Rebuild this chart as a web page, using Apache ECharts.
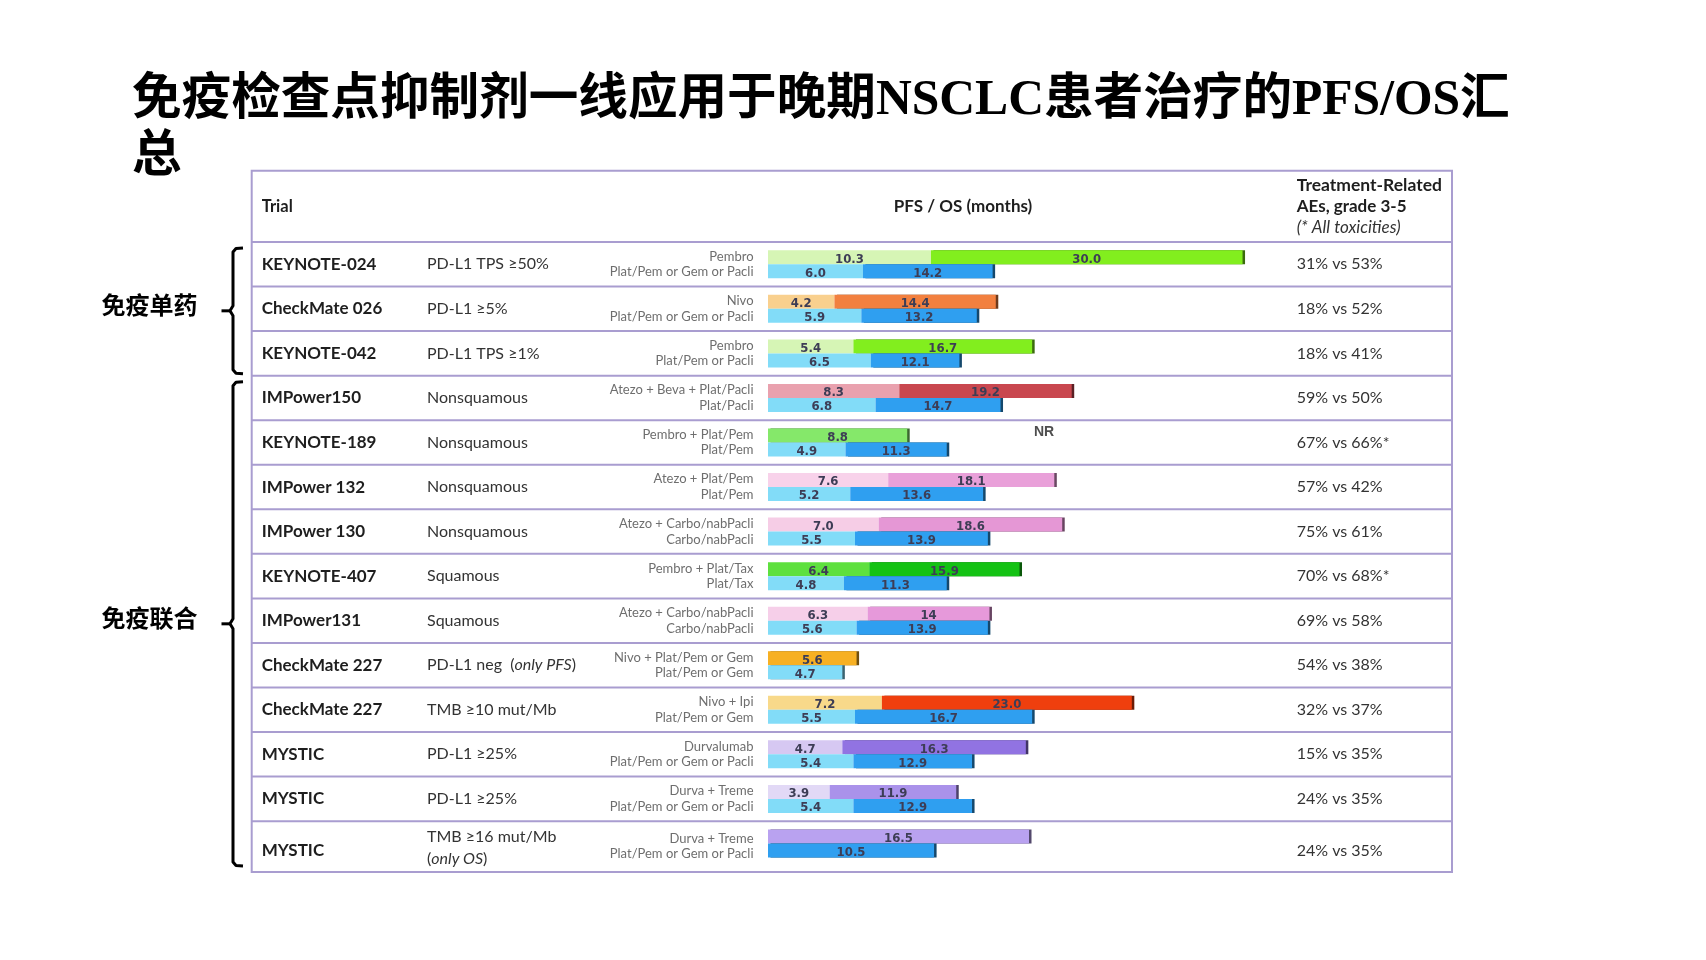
<!DOCTYPE html>
<html><head><meta charset="utf-8">
<script src="https://cdn.jsdelivr.net/npm/echarts@6/dist/echarts.min.js"></script>
<style>html,body{margin:0;padding:0;background:#fff}#c{width:1706px;height:960px}</style>
</head><body><div id="c"></div>
<script>
// ---------- data ----------
const trials = ['KEYNOTE-024','CheckMate 026','KEYNOTE-042','IMPower150','KEYNOTE-189','IMPower 132','IMPower 130','KEYNOTE-407','IMPower131','CheckMate 227','CheckMate 227','MYSTIC','MYSTIC','MYSTIC'];
const conditions = ['PD-L1 TPS ≥50%','PD-L1 ≥5%','PD-L1 TPS ≥1%','Nonsquamous','Nonsquamous','Nonsquamous','Nonsquamous','Squamous','Squamous','PD-L1 neg','TMB ≥10 mut/Mb','PD-L1 ≥25%','PD-L1 ≥25%','TMB ≥16 mut/Mb'];
const conditionNotes = [null,null,null,null,null,null,null,null,null,'only PFS',null,null,null,'only OS'];
const expArms = ['Pembro','Nivo','Pembro','Atezo + Beva + Plat/Pacli','Pembro + Plat/Pem','Atezo + Plat/Pem','Atezo + Carbo/nabPacli','Pembro + Plat/Tax','Atezo + Carbo/nabPacli','Nivo + Plat/Pem or Gem','Nivo + Ipi','Durvalumab','Durva + Treme','Durva + Treme'];
const ctlArms = ['Plat/Pem or Gem or Pacli','Plat/Pem or Gem or Pacli','Plat/Pem or Pacli','Plat/Pacli','Plat/Pem','Plat/Pem','Carbo/nabPacli','Plat/Tax','Carbo/nabPacli','Plat/Pem or Gem','Plat/Pem or Gem','Plat/Pem or Gem or Pacli','Plat/Pem or Gem or Pacli','Plat/Pem or Gem or Pacli'];
const expPFS = ['10.3','4.2','5.4','8.3','8.8','7.6','7.0','6.4','6.3','5.6','7.2','4.7','3.9',null];
const expOS  = ['30.0','14.4','16.7','19.2','NR','18.1','18.6','15.9','14',null,'23.0','16.3','11.9','16.5'];
const ctlPFS = ['6.0','5.9','6.5','6.8','4.9','5.2','5.5','4.8','5.6','4.7','5.5','5.4','5.4',null];
const ctlOS  = ['14.2','13.2','12.1','14.7','11.3','13.6','13.9','11.3','13.9',null,'16.7','12.9','12.9','10.5'];
const aes = ['31% vs 53%','18% vs 52%','18% vs 41%','59% vs 50%','67% vs 66%*','57% vs 42%','75% vs 61%','70% vs 68%*','69% vs 58%','54% vs 38%','32% vs 37%','15% vs 35%','24% vs 35%','24% vs 35%'];
const groups = [{name:'免疫单药', from:0, to:2},{name:'免疫联合', from:3, to:13}];
const nrNoteAt = 17.45; // months position of the "NR" note

// ---------- styles ----------
const expPfsColors = ['#d6f5b5','#f9d08e','#d6f5b5','#e9a1ae','#85e86a','#f8d2ea','#f6cde6','#5ee03e','#f6cfe9','#f7b023','#f8d98a','#d6c8f2','#e2d9f6',null];
const expOsColors  = ['#82ee1e','#f2803f','#82ee1e','#c9474f',null,'#e9a0d9','#e597d5','#14c214','#e699da',null,'#ef3f0e','#9173e2','#aa92ea','#b9a2f0'];
const ctlPfsColor = '#82dcf8', ctlOsColor = '#2f9ff0';
const lineColor = '#a99dd0';

const GL = 768, GT = 242, GW = 522, ROWH = 44.55, N = trials.length, GH = ROWH * N, XMAX = 33;
const TL = 251.7, TR = 1452, TTOP = 170.7, TBOT = 872;

function num(s){ return (s==null || s==='NR') ? null : parseFloat(s); }
function darken(hex, f){
  const v = parseInt(hex.slice(1),16);
  const r=(v>>16)&255,g=(v>>8)&255,b=v&255;
  return 'rgb('+Math.round(r*f)+','+Math.round(g*f)+','+Math.round(b*f)+')';
}
function cap(c){ return {shadowColor: darken(c,0.45), shadowOffsetX: 2.5, shadowOffsetY: 0, shadowBlur: 0}; }

const valFont = "'Liberation Sans Narrow','DejaVu Sans Condensed',sans-serif";
const baseLabel = {show:true, position:'inside', fontFamily: valFont, fontWeight:'bold', fontSize:13, color:'#3d3d55', offset:[0,2]};

function segSeries(name, stack, pfsArr, osArr, pfsColorOf, osColorOf){
  const pfs = {
    name: name+' PFS', type:'bar', stack, barWidth:14, barGap:'0%', xAxisIndex:0, yAxisIndex:0,
    data: pfsArr.map((p,i)=>{
      const v = num(p); if (v==null) return '-';
      const c = pfsColorOf(i);
      const st = {color:c};
      if (num(osArr[i])==null) Object.assign(st, cap(c));
      return {value:v, itemStyle:st};
    }),
    label: Object.assign({}, baseLabel, {formatter: p => pfsArr[p.dataIndex]}),
    animation:false
  };
  const os = {
    name: name+' OS', type:'bar', stack, barWidth:14, barGap:'0%', xAxisIndex:0, yAxisIndex:0,
    data: osArr.map((o,i)=>{
      const v = num(o); if (v==null) return '-';
      const c = osColorOf(i);
      return {value: v - (num(pfsArr[i])||0), itemStyle: Object.assign({color:c}, cap(c))};
    }),
    label: Object.assign({}, baseLabel, {formatter: p => osArr[p.dataIndex]}),
    animation:false
  };
  return [pfs, os];
}

const series = [].concat(
  segSeries('exp','exp',expPFS,expOS,i=>expPfsColors[i],i=>expOsColors[i]),
  segSeries('ctl','ctl',ctlPFS,ctlOS,()=>ctlPfsColor,()=>ctlOsColor),
  [{
    type:'scatter', xAxisIndex:0, yAxisIndex:0, symbolSize:0, animation:false,
    data: expOS.map((o,i)=> o==='NR' ? [nrNoteAt, i] : null).filter(d=>d),
    label:{show:true, position:'inside', formatter:'NR', fontFamily:"'Liberation Sans',Arial,sans-serif", fontWeight:'bold', fontSize:14, color:'#222', offset:[0,-10]}
  }]
);

const g = () => ({left:GL, top:GT, width:GW, height:GH});
const grids = [g(),g(),g(),g()];
const xAxes = grids.map((_,i)=>({type:'value', gridIndex:i, min:0, max:XMAX, show:false}));
const cat = (i)=>({type:'category', gridIndex:i, data:trials, inverse:true,
  axisLine:{show:false}, axisTick:{show:false}, splitLine:{show:false}});
const LAST = N-1;
const shiftPad = [14,0,0,0];

const armRich = {
  a:{fontFamily:'Lato', fontSize:13, color:'#6e6e6e', lineHeight:15.5},
  s:{fontFamily:'Lato', fontSize:2, lineHeight:6}
};
const trialRich = {
  l:{fontFamily:'Lato', fontSize:17, fontWeight:'bold', color:'#1e1e1e', padding:shiftPad}
};
const condRich = {
  t:{fontFamily:'Lato', fontSize:16, color:'#333', lineHeight:22},
  i:{fontFamily:'Lato', fontSize:16, color:'#333', fontStyle:'italic', lineHeight:22},
  s:{fontFamily:'Lato', fontSize:2, lineHeight:9}
};
const aeRich = { l:{fontFamily:'Lato', fontSize:16, color:'#333', padding:shiftPad} };

const yAxes = [
  Object.assign(cat(0), {position:'left', axisLabel:{margin: GL-753.5, align:'right', rich:armRich,
    formatter:(v,i)=> (i===LAST ? '{s| }\n' : '') + '{a|'+expArms[i]+'}\n{a|'+ctlArms[i]+'}'}}),
  Object.assign(cat(1), {position:'left', axisLabel:{margin: GL-261.7, align:'left', fontFamily:'Lato', fontSize:17, fontWeight:'bold', color:'#1e1e1e', rich:trialRich,
    formatter:(v,i)=> i===LAST ? '{l|'+trials[i]+'}' : trials[i]}}),
  Object.assign(cat(2), {position:'left', axisLabel:{margin: GL-427, align:'left', fontFamily:'Lato', fontSize:16, color:'#333', rich:condRich,
    formatter:(v,i)=>{
      const note = conditionNotes[i];
      if (!note) return '{t|'+conditions[i]+'}';
      const full = conditions[i]+' ('+note+')';
      if (full.length > 22) return '{s| }\n{t|'+conditions[i]+'}\n{t|(}{i|'+note+'}{t|)}';
      return '{t|'+conditions[i]+'  (}{i|'+note+'}{t|)}';
    }}}),
  Object.assign(cat(3), {position:'right', axisLabel:{margin: 1296.7-(GL+GW), align:'left', fontFamily:'Lato', fontSize:16, color:'#333', rich:aeRich,
    formatter:(v,i)=> i===LAST ? '{l|'+aes[i]+'}' : aes[i]}})
];

// ---------- decoration ----------
const graphic = [];
graphic.push({type:'rect', shape:{x:TL, y:TTOP, width:TR-TL, height:TBOT-TTOP}, style:{fill:null, stroke:lineColor, lineWidth:2}, silent:true});
graphic.push({type:'line', shape:{x1:TL, y1:GT, x2:TR, y2:GT}, style:{stroke:lineColor, lineWidth:2}, silent:true});
for (let k=1;k<N;k++){
  const y = GT + k*ROWH;
  graphic.push({type:'line', shape:{x1:TL, y1:y, x2:TR, y2:y}, style:{stroke:lineColor, lineWidth:2}, silent:true});
}
const hy = (TTOP+GT)/2;
graphic.push({type:'text', x:261.7, y:hy, style:{text:'Trial', font:"bold 16.5px Lato", fill:'#1e1e1e', verticalAlign:'middle', align:'left'}});
graphic.push({type:'text', x:963, y:hy, style:{text:'PFS / OS (months)', font:"bold 17px Lato", fill:'#1e1e1e', verticalAlign:'middle', align:'center'}});
graphic.push({type:'text', x:1296.7, y:185, style:{text:'Treatment-Related', font:"bold 17.5px Lato", fill:'#1e1e1e', verticalAlign:'middle', align:'left'}});
graphic.push({type:'text', x:1296.7, y:206.7, style:{text:'AEs, grade 3-5', font:"bold 17px Lato", fill:'#1e1e1e', verticalAlign:'middle', align:'left'}});
graphic.push({type:'text', x:1296.7, y:227.7, style:{text:'(* All toxicities)', font:"italic 17px Lato", fill:'#333', verticalAlign:'middle', align:'left'}});

// group brackets
const bracketX = 233;
groups.forEach((gr)=>{
  const y0 = GT + gr.from*ROWH + 6, y1 = (gr.to===N-1 ? TBOT-6 : GT + (gr.to+1)*ROWH - 2);
  const ym = (y0+y1)/2;
  graphic.push({type:'polyline', shape:{points:[[bracketX+10,y0],[bracketX+3,y0+0.5],[bracketX,y0+4],[bracketX,ym-5],[bracketX-3,ym],[bracketX,ym+5],[bracketX,y1-4],[bracketX+3,y1-0.5],[bracketX+10,y1]]},
    style:{stroke:'#000', lineWidth:3, fill:null, lineJoin:'round'}, silent:true});
  graphic.push({type:'line', shape:{x1:bracketX-11.5, y1:ym, x2:bracketX-2, y2:ym}, style:{stroke:'#000', lineWidth:3}, silent:true});
  graphic.push({type:'text', x:149.5, y:ym-6, style:{text:gr.name, font:"bold 24px 'Noto Sans CJK SC'", fill:'#000', verticalAlign:'middle', align:'center'}});
});

const chart = echarts.init(document.getElementById('c'), null, {renderer:'canvas'});
chart.setOption({
  backgroundColor:'#fff',
  animation:false,
  title:{text:'免疫检查点抑制剂一线应用于晚期NSCLC患者治疗的PFS/OS汇\n总', left:127, top:68,
    textStyle:{fontSize:49.6, fontWeight:'bold', fontFamily:"'Liberation Serif','Noto Sans CJK SC',serif", lineHeight:57, color:'#000'}},
  grid:grids, xAxis:xAxes, yAxis:yAxes, series, graphic
});
</script></body></html>
